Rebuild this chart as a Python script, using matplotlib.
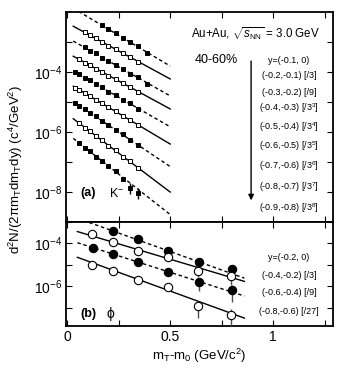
import numpy as np
import matplotlib.pyplot as plt
from matplotlib.ticker import FixedLocator, FuncFormatter, MultipleLocator, NullLocator

plt.rcParams['font.family'] = ['Liberation Sans', 'DejaVu Sans']
plt.rcParams['mathtext.fontset'] = 'custom'
plt.rcParams['mathtext.rm'] = 'Liberation Sans'
plt.rcParams['mathtext.it'] = 'Liberation Sans:italic'
plt.rcParams['mathtext.bf'] = 'Liberation Sans:bold'

# K- spectra, 9 rapidity bins (log10 of d2N/(2pi mT dmT dy), already scaled)
kaon_labels = ['y=(-0.1, 0)', '(-0.2,-0.1) [/3]', '(-0.3,-0.2) [/9]',
               '(-0.4,-0.3) [/3$^3$]', '(-0.5,-0.4) [/3$^4$]', '(-0.6,-0.5) [/3$^5$]',
               '(-0.7,-0.6) [/3$^6$]', '(-0.8,-0.7) [/3$^7$]', '(-0.9,-0.8) [/3$^8$]']
kaon_x = [
    [0.17, 0.20, 0.235, 0.27, 0.305, 0.345, 0.39],
    [0.085, 0.11, 0.14, 0.17, 0.20, 0.235, 0.27, 0.305, 0.345],
    [0.085, 0.11, 0.14, 0.17, 0.20, 0.235, 0.27, 0.305, 0.345, 0.39],
    [0.06, 0.085, 0.11, 0.14, 0.17, 0.20, 0.235, 0.27, 0.305, 0.345],
    [0.04, 0.06, 0.085, 0.11, 0.14, 0.17, 0.20, 0.235, 0.27, 0.305, 0.345],
    [0.04, 0.06, 0.085, 0.11, 0.14, 0.17, 0.20, 0.235, 0.27, 0.305, 0.345],
    [0.04, 0.06, 0.085, 0.11, 0.14, 0.17, 0.20, 0.235, 0.27, 0.305, 0.345],
    [0.06, 0.085, 0.11, 0.14, 0.17, 0.20, 0.235, 0.27, 0.305, 0.345],
    [0.06, 0.085, 0.11, 0.14, 0.17, 0.20, 0.235, 0.27, 0.305, 0.345],
]
kaon_logy = [
    [-2.43, -2.58, -2.70, -2.85, -3.01, -3.14, -3.36],
    [-2.67, -2.78, -2.88, -2.99, -3.12, -3.23, -3.38, -3.49, -3.66],
    [-3.17, -3.29, -3.38, -3.52, -3.62, -3.77, -3.89, -4.05, -4.18, -4.40],
    [-3.57, -3.69, -3.76, -3.89, -3.99, -4.12, -4.23, -4.38, -4.49, -4.66],
    [-4.00, -4.08, -4.20, -4.27, -4.41, -4.51, -4.65, -4.77, -4.93, -5.04, -5.22],
    [-4.52, -4.59, -4.71, -4.79, -4.93, -5.04, -5.18, -5.30, -5.47, -5.59, -5.78],
    [-5.02, -5.14, -5.23, -5.37, -5.48, -5.64, -5.76, -5.94, -6.08, -6.26, -6.43],
    [-5.70, -5.85, -5.96, -6.14, -6.27, -6.45, -6.61, -6.82, -6.98, -7.21],
    [-6.36, -6.52, -6.63, -6.82, -6.96, -7.14, -7.31, -7.55, -7.85, -8.02],
]
kaon_relerr = [0.0] * 8 + [0.4]  # only last row has visible bars (last two points)
# exponential fits: log10 at mT-m0 = 0 and decades per GeV
kaon_fit_loga = [-1.75, -2.36, -2.85, -3.36, -3.85, -4.35, -4.85, -5.40, -6.05]
kaon_fit_slope = [4.1, 3.74, 3.89, 3.74, 3.95, 4.1, 4.6, 5.2, 5.4]

# phi spectra, 4 rapidity bins
phi_labels = ['y=(-0.2, 0)', '(-0.4,-0.2) [/3]', '(-0.6,-0.4) [/9]', '(-0.8,-0.6) [/27]']
phi_x = [
    [0.223, 0.345, 0.49, 0.64, 0.80],
    [0.12, 0.225, 0.345, 0.49, 0.635, 0.795],
    [0.126, 0.223, 0.345, 0.49, 0.64, 0.80],
    [0.12, 0.225, 0.345, 0.49, 0.635, 0.795],
]
phi_logy = [
    [-3.44, -3.81, -4.33, -4.88, -5.21],
    [-3.58, -3.91, -4.33, -4.65, -5.26, -5.53],
    [-4.23, -4.47, -4.88, -5.35, -5.81, -6.19],
    [-5.02, -5.26, -5.72, -6.05, -6.93, -7.35],
]
phi_relerr = [
    [0, 0, 0, 0.45, 0.4],
    [0, 0, 0, 0, 0.5, 0.6],
    [0, 0, 0, 0, 0.6, 0.7],
    [0, 0, 0, 0, 0.7, 0.95],
]
phi_fit_loga = [-2.65, -3.30, -3.81, -4.47]
phi_fit_slope = [3.45, 2.87, 3.07, 3.5]


def style_axis(ax, ylim, ticks, labelled):
    ax.set_yscale('log')
    ax.set_xlim(-0.005, 1.29)
    ax.set_ylim(*ylim)
    ax.yaxis.set_major_locator(FixedLocator(ticks))
    ax.yaxis.set_minor_locator(NullLocator())
    ax.yaxis.set_major_formatter(FuncFormatter(
        lambda v, p: r'$10^{%d}$' % round(np.log10(v)) if round(np.log10(v)) in labelled else ''))
    ax.xaxis.set_major_locator(MultipleLocator(0.25))
    ax.tick_params(which='both', direction='in', length=4, width=0.8,
                   top=True, right=True, labelsize=10, pad=3)
    for s in ax.spines.values():
        s.set_linewidth(1.3)


fig = plt.figure(figsize=(3.57, 3.77), dpi=100)
ax1 = fig.add_axes([0.185, 0.411, 0.748, 0.557])
ax2 = fig.add_axes([0.185, 0.135, 0.748, 0.276])

# top panel: K-
for i in range(len(kaon_x)):
    filled = i % 2 == 0
    xf = np.linspace(0.03, 0.5, 50)
    ax1.plot(xf, 10 ** (kaon_fit_loga[i] - kaon_fit_slope[i] * xf), color='k', lw=1.0,
             ls=(0, (2.5, 2)) if filled else '-', zorder=2)
    y = 10 ** np.array(kaon_logy[i])
    err = np.zeros_like(y)
    if kaon_relerr[i] > 0:
        err[-2:] = kaon_relerr[i] * y[-2:]
    ax1.errorbar(kaon_x[i], y, yerr=err, fmt='s', ms=3.3, mec='k', mew=0.7,
                 mfc='k' if filled else 'white', ecolor='k', elinewidth=1.0,
                 capsize=0, zorder=3)

style_axis(ax1, (1e-9, 1e-2), [1e-3, 1e-4, 1e-5, 1e-6, 1e-7, 1e-8], (-4, -6, -8))
ax1.xaxis.set_major_formatter(FuncFormatter(lambda v, p: ''))

ax1.text(0.71, 0.9, r'Au+Au, $\sqrt{s_{\rm NN}}$ = 3.0 GeV', transform=ax1.transAxes,
         ha='center', va='center', fontsize=8.3)
ax1.text(0.562, 0.771, '40-60%', transform=ax1.transAxes, ha='center', va='center', fontsize=9)
ax1.annotate('', xy=(0.693, 0.09), xytext=(0.693, 0.78), xycoords='axes fraction',
             arrowprops=dict(arrowstyle='-|>', color='k', lw=1.0, mutation_scale=8))
kaon_label_y = [0.771, 0.70, 0.619, 0.543, 0.452, 0.362, 0.267, 0.167, 0.067]
for lab, yy in zip(kaon_labels, kaon_label_y):
    ax1.text(0.835, yy, lab, transform=ax1.transAxes, ha='center', va='center', fontsize=6.5)
ax1.text(0.052, 0.138, '(a)', transform=ax1.transAxes, ha='left', va='center',
         fontsize=9, fontweight='bold')
ax1.text(0.16, 0.138, r'K$^{-}$', transform=ax1.transAxes, ha='left', va='center', fontsize=9)

# bottom panel: phi
for i in range(len(phi_x)):
    filled = i % 2 == 0
    xf = np.linspace(0.05, 0.86, 50)
    ax2.plot(xf, 10 ** (phi_fit_loga[i] - phi_fit_slope[i] * xf), color='k', lw=1.0,
             ls=(0, (2.5, 2)) if filled else '-', zorder=2)
    y = 10 ** np.array(phi_logy[i])
    err = np.array(phi_relerr[i]) * y
    ax2.errorbar(phi_x[i], y, yerr=err, fmt='o', ms=6, mec='k', mew=0.8,
                 mfc='k' if filled else 'white', ecolor='0.3', elinewidth=1.0,
                 capsize=0, zorder=3)

style_axis(ax2, (1.4e-8, 1e-3), [1e-3, 1e-4, 1e-5, 1e-6, 1e-7], (-4, -6))
ax2.xaxis.set_major_formatter(FuncFormatter(
    lambda v, p: {0.0: '0', 0.5: '0.5', 1.0: '1'}.get(round(v, 2), '')))

phi_label_y = [0.663, 0.49, 0.327, 0.144]
for lab, yy in zip(phi_labels, phi_label_y):
    ax2.text(0.835, yy, lab, transform=ax2.transAxes, ha='center', va='center', fontsize=6.5)
ax2.text(0.052, 0.12, '(b)', transform=ax2.transAxes, ha='left', va='center',
         fontsize=9, fontweight='bold')
ax2.text(0.15, 0.12, 'ϕ', transform=ax2.transAxes, ha='left', va='center', fontsize=10)

ax2.set_xlabel(r'm$_{\rm T}$-m$_0$ (GeV/c$^2$)', fontsize=9.5, labelpad=2)
fig.text(0.045, 0.55, r'd$^2$N/(2πm$_{\rm T}$dm$_{\rm T}$dy) (c$^4$/GeV$^2$)',
         rotation=90, ha='center', va='center', fontsize=9.5)

fig.savefig('out.png', dpi=100)
